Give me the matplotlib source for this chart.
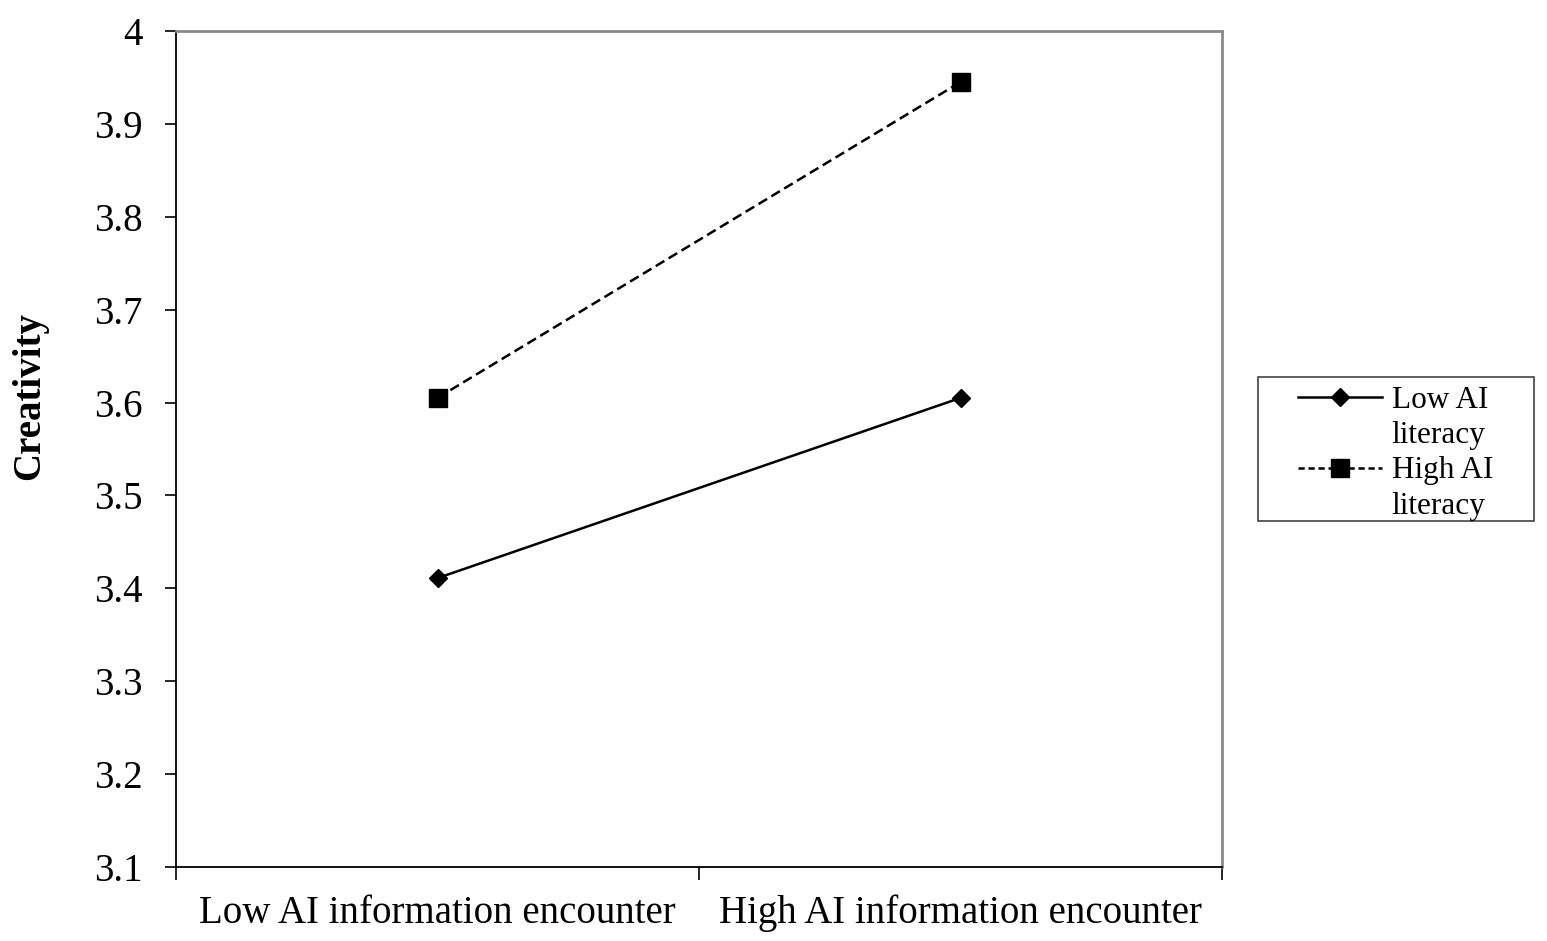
import matplotlib.pyplot as plt
from matplotlib.lines import Line2D
from matplotlib.patches import Rectangle

plt.rcParams['font.family'] = ['Liberation Serif', 'DejaVu Serif']

# 数据
categories = ['Low AI information encounter', 'High AI information encounter']
low_literacy = [3.411, 3.605]
high_literacy = [3.605, 3.945]
yticks = [3.1, 3.2, 3.3, 3.4, 3.5, 3.6, 3.7, 3.8, 3.9, 4.0]
ytick_labels = ['3.1', '3.2', '3.3', '3.4', '3.5', '3.6', '3.7', '3.8', '3.9', '4']

W, H = 1547, 941
fig = plt.figure(figsize=(W / 100, H / 100), dpi=100)
ax = fig.add_axes([176 / W, 1 - 867 / H, (1222 - 176) / W, (867 - 31) / H])

dash = (0, (4, 2))
x = list(range(len(categories)))
l1, = ax.plot(x, low_literacy, color='black', linestyle='-', linewidth=1.8,
              marker='D', markersize=9.5)
l2, = ax.plot(x, high_literacy, color='black', linestyle=dash, linewidth=1.8,
              marker='s', markersize=13)

ax.set_xlim(-0.5, 1.5)
ax.set_ylim(3.1, 4.0)
ax.set_yticks(yticks)
ax.set_yticklabels(ytick_labels, fontsize=28)
# 分类标签放在中间，刻度线在分隔处
ax.set_xticks([-0.5, 0.5, 1.5])
ax.set_xticklabels([])
ax.set_xticks(x, minor=True)
ax.set_xticklabels(categories, minor=True, fontsize=28)
ax.tick_params(axis='x', which='minor', length=0, pad=20)
ax.tick_params(axis='x', which='major', length=9, width=1.2, direction='out')
ax.tick_params(axis='y', length=8, width=1.2, direction='out', pad=16)

for side in ['left', 'bottom']:
    ax.spines[side].set_color('black')
    ax.spines[side].set_linewidth(1.3)
for side in ['top', 'right']:
    ax.spines[side].set_color('#8a8a8a')
    ax.spines[side].set_linewidth(2)

ax.set_ylabel('Creativity', fontsize=28, fontweight='bold')
ax.yaxis.set_label_coords(-0.122, 0.563)

# 图例：句柄对齐第一行文字
blank = Line2D([], [], linestyle='none', marker='none')
h1 = Line2D([], [], color='black', linestyle='-', linewidth=1.8, marker='D', markersize=9.5)
h2 = Line2D([], [], color='black', linestyle=(0, (2.5, 1.5)), linewidth=1.8, marker='s', markersize=13)
leg = fig.legend([h1, blank, h2, blank], ['Low AI', 'literacy', 'High AI', 'literacy'],
                 loc='upper left', bbox_to_anchor=(1298 / W, 1 - 386 / H),
                 fontsize=22.5, frameon=False, handlelength=2.7, handletextpad=0.3,
                 labelspacing=0.2, borderpad=0, borderaxespad=0)
fig.patches.append(Rectangle((1258 / W, 1 - 521 / H), (1534 - 1258) / W, (521 - 377) / H,
                             transform=fig.transFigure, fill=False,
                             edgecolor='#444444', linewidth=1.2))

fig.savefig('out.png', dpi=100)
